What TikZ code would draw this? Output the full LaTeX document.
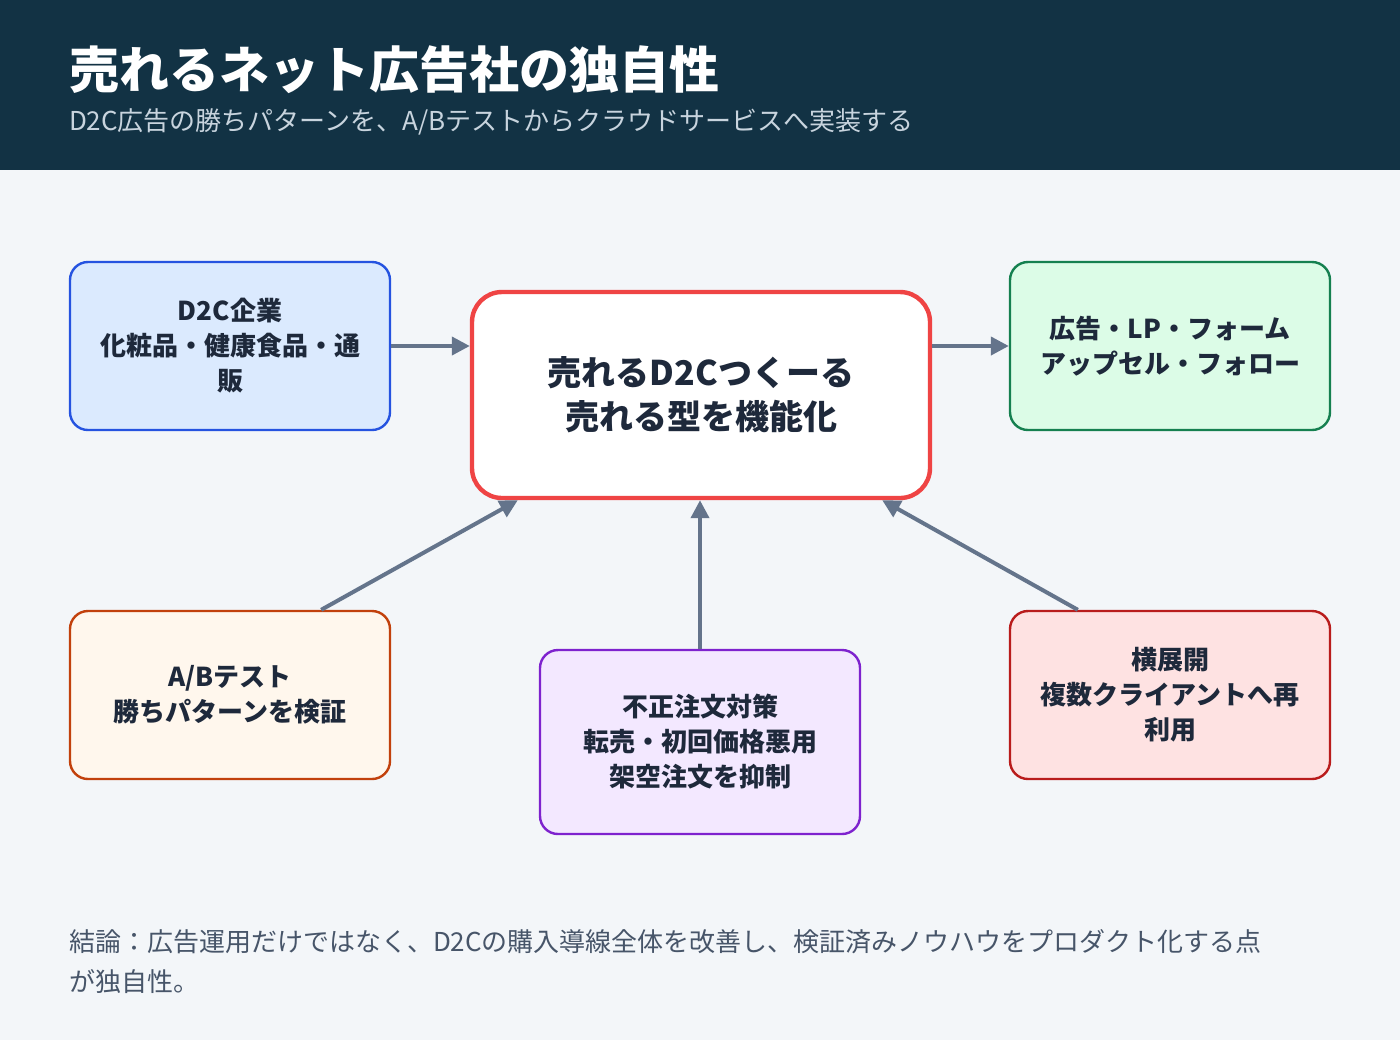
\documentclass[tikz,border=0pt]{standalone}
\usepackage{fontspec}
\setmainfont{Noto Sans CJK JP}
\newfontfamily\jpbold{Noto Sans CJK JP}[BoldFont={* Bold}]
\usetikzlibrary{arrows.meta}
\definecolor{hdr}{RGB}{18,50,68}
\definecolor{bgc}{RGB}{243,246,249}
\definecolor{subc}{RGB}{200,212,222}
\definecolor{txt}{RGB}{30,41,59}
\definecolor{note}{RGB}{71,85,105}
\definecolor{arr}{RGB}{100,116,139}
\definecolor{blueF}{RGB}{219,234,254}\definecolor{blueD}{RGB}{37,83,224}
\definecolor{greenF}{RGB}{220,252,231}\definecolor{greenD}{RGB}{21,128,80}
\definecolor{orF}{RGB}{255,247,237}\definecolor{orD}{RGB}{194,65,12}
\definecolor{puF}{RGB}{243,232,255}\definecolor{puD}{RGB}{126,34,206}
\definecolor{reF}{RGB}{254,226,226}\definecolor{reD}{RGB}{185,28,28}
\definecolor{ctrD}{RGB}{239,68,68}
\tikzset{
  box/.style={draw, line width=1.2pt, rounded corners=9pt, align=center,
    text=txt, font=\fontsize{13}{17.5}\selectfont\bfseries,
    minimum width=160pt, minimum height=84pt, inner sep=0pt},
  hub/.style={draw=ctrD, fill=white, line width=2.2pt, rounded corners=15pt,
    align=center, text=txt, font=\fontsize{17}{22}\selectfont\bfseries,
    minimum width=229pt, minimum height=103pt},
  link/.style={draw=arr, line width=2pt, -{Triangle[length=9pt,width=9pt]}}
}
\begin{document}
\begin{tikzpicture}[x=0.5pt,y=-0.5pt]
  \useasboundingbox (0,0) rectangle (1400,1040);
  \fill[bgc] (0,0) rectangle (1400,1040);
  \fill[hdr] (0,0) rectangle (1400,170);
  \node[anchor=west, text=white, font=\fontsize{25}{30}\selectfont\bfseries] (title) at (62,70) {売れるネット広告社の独自性};
  \node[anchor=west, text=subc, font=\fontsize{13}{16}\selectfont] (sub) at (62,122) {D2C広告の勝ちパターンを、A/Bテストからクラウドサービスへ実装する};
  % boxes
  \node[box, draw=blueD, fill=blueF] (d2c) at (230,346) {D2C企業\\化粧品・健康食品・通\\販};
  \node[hub] (core) at (701,395) {売れるD2Cつくーる\\売れる型を機能化};
  \node[box, draw=greenD, fill=greenF] (out) at (1170,346) {広告・LP・フォーム\\アップセル・フォロー};
  \node[box, draw=orD, fill=orF] (ab) at (230,695) {A/Bテスト\\勝ちパターンを検証};
  \node[box, draw=puD, fill=puF, minimum height=92pt] (fraud) at (700,742) {不正注文対策\\転売・初回価格悪用\\架空注文を抑制};
  \node[box, draw=reD, fill=reF] (reuse) at (1170,695) {横展開\\複数クライアントへ再\\利用};
  % links
  \draw[link] (d2c) -- (core.west |- d2c);
  \draw[link] (core.east |- out) -- (out);
  \draw[link] ([xshift=-35pt]ab.north east) -- ([xshift=24pt]core.south west);
  \draw[link] (fraud) -- (core.south -| fraud);
  \draw[link] ([xshift=34.5pt]reuse.north west) -- ([xshift=-25pt]core.south east);
  % conclusion
  \node[anchor=north west, text=note, align=left, font=\fontsize{13}{20}\selectfont] (concl) at (62,922)
    {結論：広告運用だけではなく、D2Cの購入導線全体を改善し、検証済みノウハウをプロダクト化する点\\が独自性。};
\end{tikzpicture}
\end{document}
